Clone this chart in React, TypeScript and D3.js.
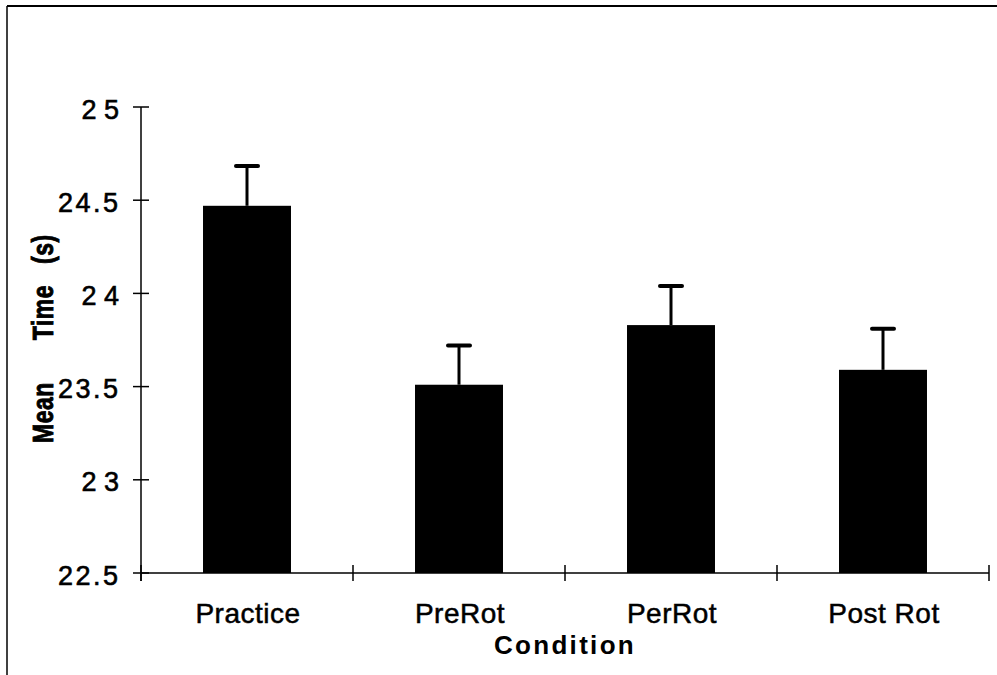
import React from "react";
import * as d3 from "d3";

const categories = ["Practice", "PreRot", "PerRot", "Post Rot"];
const meanTimes = [24.47, 23.51, 23.83, 23.59];
const stdErrors = [0.214, 0.21, 0.21, 0.22];
const yTickValues = [22.5, 23, 23.5, 24, 24.5, 25];
const yTickLabels = ["22.5", "2 3", "23.5", "2 4", "24.5", "2 5"];
const xAxisTitle = "Condition";
const yAxisTitleWords = ["Mean", "Time", "(s)"];

const W = 997;
const H = 675;
const FONT = "'Liberation Sans', Arial, Helvetica, sans-serif";

export default function App() {
  const x = d3.scaleBand<string>().domain(categories).range([141, 989]).padding(0);
  const y = d3.scaleLinear().domain([22.5, 25]).range([573, 107]);
  const barW = x.bandwidth() * 0.415;
  const capW = 22;
  const boundaries = [...categories.map((c) => x(c) as number), 989];

  return (
    <svg
      width={W}
      height={H}
      style={{ position: "absolute", left: 0, top: 0, background: "#fff" }}
      fontFamily={FONT}
    >
      <rect x={0} y={0} width={W} height={H} fill="#fff" />
      {/* frame */}
      <line x1={7} y1={6} x2={W} y2={6} stroke="#000" strokeWidth={2} />
      <line x1={7} y1={6} x2={7} y2={H} stroke="#000" strokeWidth={1.5} />

      {/* bars */}
      {categories.map((c, i) => {
        const cx = (x(c) as number) + x.bandwidth() / 2;
        const top = y(meanTimes[i]);
        const errTop = y(meanTimes[i] + stdErrors[i]);
        return (
          <g key={c}>
            <rect x={cx - barW / 2} y={top} width={barW} height={y(22.5) - top} fill="#000" />
            <line x1={cx} y1={top} x2={cx} y2={errTop} stroke="#000" strokeWidth={3} />
            <line
              x1={cx - capW / 2}
              y1={errTop}
              x2={cx + capW / 2}
              y2={errTop}
              stroke="#000"
              strokeWidth={4}
              strokeLinecap="round"
            />
          </g>
        );
      })}

      {/* y axis */}
      <line x1={141} y1={y(25)} x2={141} y2={581} stroke="#000" strokeWidth={1.5} />
      {yTickValues.map((v, i) => (
        <g key={v}>
          <line x1={133} y1={y(v)} x2={149} y2={y(v)} stroke="#000" strokeWidth={1.5} />
          <text
            x={yTickLabels[i].includes(".") ? 120.5 : 119}
            y={y(v) + 11.5}
            textAnchor="end"
            fontSize={27}
            letterSpacing={yTickLabels[i].includes(".") ? 2.5 : 0}
            fill="#000"
            stroke="#000"
            strokeWidth={0.6}
          >
            {yTickLabels[i]}
          </text>
        </g>
      ))}

      {/* x axis */}
      <line x1={141} y1={573} x2={989} y2={573} stroke="#000" strokeWidth={1.5} />
      {boundaries.map((bx, i) => (
        <line key={i} x1={bx} y1={565} x2={bx} y2={581} stroke="#000" strokeWidth={1.5} />
      ))}
      {categories.map((c) => (
        <text
          key={c}
          x={(x(c) as number) + x.bandwidth() / 2 + 1}
          y={623}
          textAnchor="middle"
          fontSize={28}
          letterSpacing={0.5}
          fill="#000"
          stroke="#000"
          strokeWidth={0.5}
        >
          {c}
        </text>
      ))}

      {/* axis titles */}
      <text
        x={565}
        y={654}
        textAnchor="middle"
        fontSize={26}
        fontWeight="bold"
        letterSpacing={2.3}
        fill="#000"
      >
        {xAxisTitle}
      </text>
      <text
        transform={`translate(53, 443) rotate(-90) scale(1, 1.3)`}
        textAnchor="start"
        fontSize={23}
        fontWeight="bold"
        letterSpacing={0.5}
        fill="#000"
        stroke="#000"
        strokeWidth={0.7}
      >
        <tspan>{yAxisTitleWords[0]}</tspan>
        <tspan dx={42}>{yAxisTitleWords[1]}</tspan>
        <tspan dx={21}>{yAxisTitleWords[2]}</tspan>
      </text>
    </svg>
  );
}
